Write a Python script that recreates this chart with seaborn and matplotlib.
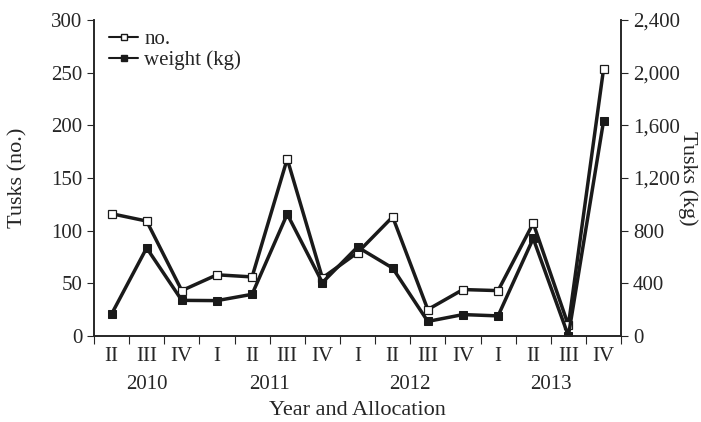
import pandas as pd
import matplotlib.pyplot as plt
import seaborn as sns
from matplotlib.lines import Line2D

quarters = ['II', 'III', 'IV', 'I', 'II', 'III', 'IV', 'I', 'II', 'III', 'IV', 'I', 'II', 'III', 'IV']
years = [2010, 2010, 2010, 2011, 2011, 2011, 2011, 2012, 2012, 2012, 2012, 2013, 2013, 2013, 2013]
tusks_no = [116, 109, 43, 58, 56, 168, 55, 79, 113, 25, 44, 43, 107, 10, 253]
tusks_kg = [165, 668, 270, 268, 316, 925, 405, 675, 515, 110, 162, 152, 740, 0, 1630]

df = pd.DataFrame({'pos': range(len(quarters)), 'quarter': quarters, 'year': years,
                   'no': tusks_no, 'kg': tusks_kg})

sns.set_style('ticks')
plt.rcParams['font.family'] = ['Liberation Serif', 'DejaVu Serif']
plt.rcParams['font.size'] = 15

fig = plt.figure(figsize=(7.01, 4.22), dpi=100)
ax = fig.add_axes([0.134, 0.204, 0.752, 0.749])
ax2 = ax.twinx()

sns.lineplot(data=df, x='pos', y='no', ax=ax, color='#1a1a1a', linewidth=2.5,
             marker='s', markersize=5.5, markerfacecolor='white', markeredgecolor='#1a1a1a',
             markeredgewidth=0.9)
sns.lineplot(data=df, x='pos', y='kg', ax=ax2, color='#1a1a1a', linewidth=2.5,
             marker='s', markersize=5.5, markerfacecolor='#1a1a1a', markeredgecolor='#1a1a1a')

ax.set_xlim(-0.5, len(quarters) - 0.5)
ax.set_ylim(0, 300)
ax2.set_ylim(0, 2400)
ax.set_yticks(range(0, 301, 50))
ax2.set_yticks(range(0, 2401, 400))
ax2.set_yticklabels([f'{v:,}' for v in range(0, 2401, 400)])

# category boundary ticks, labels centered without tick marks
ax.set_xticks([i - 0.5 for i in range(len(quarters) + 1)])
ax.set_xticklabels([])
ax.set_xticks(list(df['pos']), minor=True)
ax.tick_params(axis='x', which='minor', length=0, pad=8)
ax.set_xticklabels(quarters, minor=True, fontsize=15)
ax.tick_params(axis='x', which='major', length=6, direction='out')

for yr, grp in df.groupby('year'):
    ax.text(grp['pos'].mean(), -0.155, str(yr), transform=ax.get_xaxis_transform(),
            ha='center', va='center', fontsize=15)

ax.set_xlabel('Year and Allocation', fontsize=16)
ax.xaxis.set_label_coords(0.5, -0.235)
ax.xaxis.label.set_va('center')
ax.set_ylabel('Tusks (no.)', fontsize=16)
ax.yaxis.set_label_coords(-0.145, 0.5)
ax.yaxis.label.set_va('center')
ax2.set_ylabel('Tusks (kg)', fontsize=16, rotation=270)
ax2.yaxis.set_label_coords(1.127, 0.5)
ax2.yaxis.label.set_va('center')

for a in (ax, ax2):
    a.spines['top'].set_visible(False)
    a.tick_params(axis='y', length=5, direction='out')
    for s in a.spines.values():
        s.set_linewidth(1.2)

handles = [
    Line2D([], [], color='#1a1a1a', lw=1.5, marker='s', markersize=5,
           markerfacecolor='white', markeredgecolor='#1a1a1a'),
    Line2D([], [], color='#1a1a1a', lw=1.5, marker='s', markersize=5,
           markerfacecolor='#1a1a1a'),
]
ax.legend(handles, ['no.', 'weight (kg)'], loc='upper left', frameon=False,
          bbox_to_anchor=(0.005, 1.008), handlelength=1.4, handletextpad=0.3,
          borderaxespad=0.2, labelspacing=0.05, fontsize=15)

fig.savefig('out.png', dpi=100)
